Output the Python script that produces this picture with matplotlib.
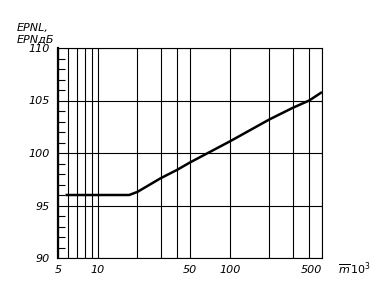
import numpy as np
import matplotlib
matplotlib.use('Agg')
import matplotlib.pyplot as plt
from matplotlib.ticker import FixedLocator, NullFormatter

# curve (mass in 10^3, EPN level)
mass = [5.7, 17.3, 20, 30, 40, 50, 100, 200, 300, 400, 500]
epn = [96.0, 96.0, 96.3, 97.6, 98.4, 99.1, 101.1, 103.2, 104.3, 105.0, 105.8]

x_major = [5, 10, 50, 100, 500]
x_major_labels = ['5', '10', '50', '100', '500']
x_minor = [6, 7, 8, 9, 20, 30, 40, 200, 300, 400]
y_major = [90, 95, 100, 105, 110]
y_minor = list(range(90, 111))

plt.rcParams['font.family'] = ['DejaVu Sans']
plt.rcParams['mathtext.fontset'] = 'dejavusans'

fig = plt.figure(figsize=(3.85, 2.87), dpi=100)
ax = fig.add_axes([58 / 385, 1 - 258 / 287, 264 / 385, 210 / 287])

ax.plot(mass, epn, color='black', lw=1.8, solid_capstyle='butt')

ax.set_xscale('log')
ax.set_xlim(5, 500)
ax.set_ylim(90, 110)

ax.xaxis.set_major_locator(FixedLocator(x_major))
ax.xaxis.set_minor_locator(FixedLocator(x_minor))
ax.xaxis.set_minor_formatter(NullFormatter())
ax.set_xticklabels(x_major_labels, fontstyle='italic', fontsize=8)
# the "500" label sits just left of the right edge in the original
ax.get_xticklabels()[-1].set_horizontalalignment('right')

ax.yaxis.set_major_locator(FixedLocator(y_major))
ax.yaxis.set_minor_locator(FixedLocator(y_minor))
ax.set_yticklabels([str(v) for v in y_major], fontstyle='italic', fontsize=8)

ax.grid(True, which='major', color='black', lw=0.8)
ax.grid(True, which='minor', axis='x', color='black', lw=0.8)

ax.tick_params(axis='x', which='both', length=0, pad=5)
ax.tick_params(axis='y', which='major', length=0, pad=6)
ax.tick_params(axis='y', which='minor', direction='in', length=5, width=0.8, left=True)

for side in ['top', 'right', 'bottom']:
    ax.spines[side].set_linewidth(0.8)
ax.spines['left'].set_linewidth(1.6)

fig.text(17 / 385, 1 - 28 / 287, 'EPNL,', fontstyle='italic', fontsize=8,
         va='center', ha='left')
fig.text(17 / 385, 1 - 40 / 287, 'EPNдБ', fontstyle='italic', fontsize=8,
         va='center', ha='left')
fig.text(338 / 385, 1 - 269 / 287, r'$\overline{m}\,\mathit{10}^{3}$',
         fontsize=8, va='center', ha='left')

fig.savefig('out.png', dpi=100, facecolor='white')
